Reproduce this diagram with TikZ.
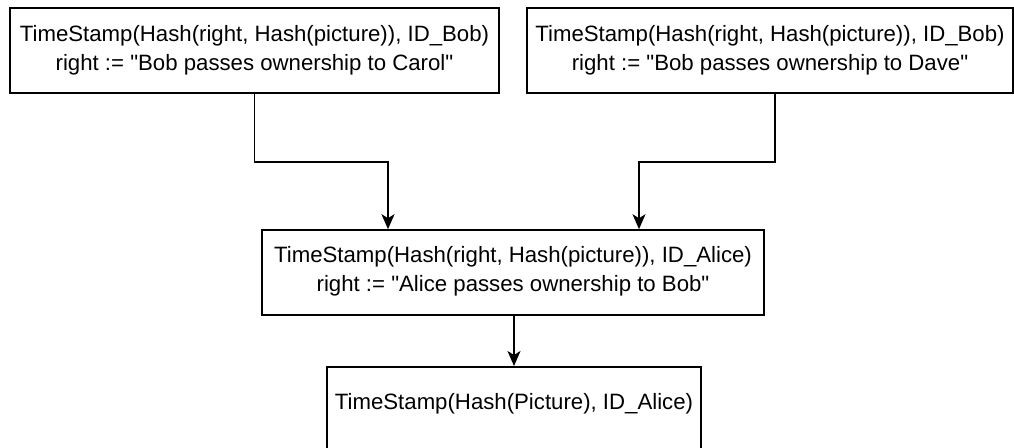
\documentclass[tikz,border=0pt]{standalone}
\usepackage{fontspec}
\setmainfont{Liberation Sans}
\usetikzlibrary{arrows.meta}
\tikzset{
  box/.style={draw=black, line width=1.6pt, fill=white, rectangle, align=center,
    inner sep=0pt, font=\fontsize{22.2}{29}\selectfont},
  link/.style={draw=black, line width=1.6pt,
    -{Stealth[length=15pt,width=13pt,inset=4pt]}},
}
\newcommand{\qq}{\textquotedbl}
\begin{document}
\begin{tikzpicture}[x=1pt,y=-1pt]
  \useasboundingbox (0,0) rectangle (1014,447);
  \clip (0,0) rectangle (1014,447);
  \fill[white] (0,0) rectangle (1014,447);

  % record boxes
  \node[box, minimum width=489pt, minimum height=85pt] (carol) at (254.5,50.5)
    {TimeStamp(Hash(right, Hash(picture)), ID\_Bob)\\right := \qq Bob passes ownership to Carol\qq\\[-23pt]\mbox{}};
  \node[box, minimum width=486pt, minimum height=85pt] (dave) at (770,50.5)
    {TimeStamp(Hash(right, Hash(picture)), ID\_Bob)\\right := \qq Bob passes ownership to Dave\qq\\[-23pt]\mbox{}};
  \node[box, minimum width=502pt, minimum height=85pt] (bob) at (513,272.5)
    {TimeStamp(Hash(right, Hash(picture)), ID\_Alice)\\right := \qq Alice passes ownership to Bob\qq\\[-21pt]\mbox{}};
  \node[box, anchor=north, minimum width=374pt, text height=15pt, text depth=70pt,
        inner ysep=28pt] (alice) at (514,366)
    {TimeStamp(Hash(Picture), ID\_Alice)};

  % ownership transfers
  \path[link] (carol.south) -- ++(0,68) -| ([xshift=-125pt]bob.north);
  \path[link] ([xshift=5pt]dave.south) -- ++(0,68) -| ([xshift=126pt]bob.north);
  \path[link] ([xshift=1pt]bob.south) -- (alice.north);
\end{tikzpicture}
\end{document}
